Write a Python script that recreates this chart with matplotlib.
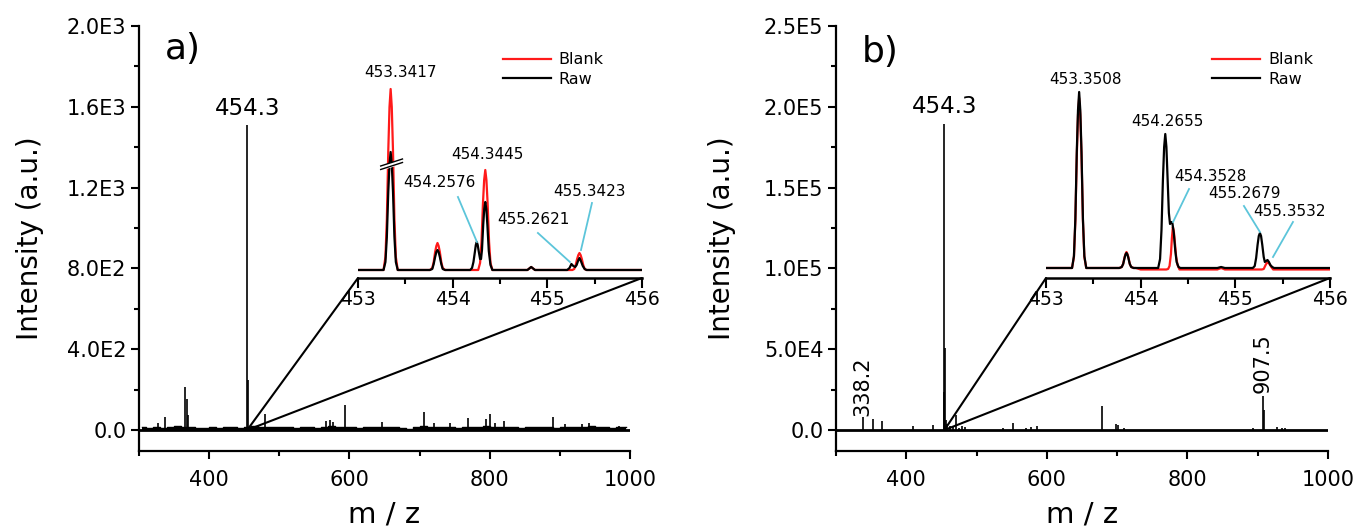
import matplotlib
matplotlib.use("Agg")
import matplotlib.pyplot as plt
import numpy as np
from matplotlib.patches import ConnectionPatch
from matplotlib.ticker import MultipleLocator, FixedLocator, FuncFormatter

# %% data read off the reference
# panel a, full spectrum (stick peaks)
a_mz = [327, 337, 365.5, 368, 370, 454.3, 455.0, 479.5, 567, 572, 576, 593, 646,
        707, 720, 743, 769, 795, 801, 807, 820, 890, 907, 932, 941, 985]
a_int = [36, 63, 211, 152, 74, 1508, 250, 79, 46, 50, 40, 124, 41,
         87, 33, 36, 61, 53, 79, 36, 45, 66, 28, 30, 36, 21]
# panel a, noisy baseline
a_noise_mz = [305, 315, 325, 335, 345, 355, 365, 375, 385, 395, 405, 415, 425, 435,
              445, 455, 465, 475, 485, 495, 505, 515, 525, 535, 545, 555, 565, 575,
              585, 595, 605, 615, 625, 635, 645, 655, 665, 675, 685, 695, 705, 715,
              725, 735, 745, 755, 765, 775, 785, 795, 805, 815, 825, 835, 845, 855,
              865, 875, 885, 895, 905, 915, 925, 935, 945, 955, 965, 975, 985, 995]
a_noise_int = [14, 11, 17, 12, 15, 19, 16, 17, 12, 11, 14, 10, 13, 15,
               11, 17, 19, 15, 14, 13, 17, 14, 11, 15, 13, 8, 17, 19,
               14, 13, 15, 11, 14, 13, 17, 14, 13, 8, 3, 14, 18, 15,
               13, 14, 17, 11, 14, 15, 13, 19, 17, 14, 13, 15, 11, 14,
               13, 15, 14, 11, 17, 13, 14, 15, 18, 13, 14, 11, 15, 13]

# panel b, full spectrum (stick peaks)
b_mz = [338.2, 353, 366, 410, 438, 453.0, 454.3, 455.0, 456, 458, 462, 466,
        470.6, 475, 479, 483, 538, 552, 570, 577, 586,
        679, 699, 702, 710, 894, 907.5, 908.5, 928, 935, 939]
b_int = [7800, 6800, 5600, 2500, 3100, 23300, 189600, 50500, 6000, 4000, 2500, 2000,
         9300, 1500, 2500, 2000, 1000, 4500, 1000, 1600, 2700,
         15000, 3700, 3100, 1400, 1000, 21000, 12400, 1650, 1000, 1000]

# zoomed insets (m/z 453-456), traced profiles, relative units
ia_red_mz = [453.0, 453.27, 453.29, 453.305, 453.32, 453.333, 453.345, 453.357, 453.37,
             453.385, 453.40, 453.42,
             453.76, 453.785, 453.80, 453.815, 453.828, 453.84, 453.852, 453.865, 453.88,
             453.895, 453.92,
             454.27, 454.29, 454.305, 454.32, 454.333, 454.345, 454.357, 454.37,
             454.385, 454.40, 454.42,
             454.79, 454.83, 454.87,
             455.265, 455.285, 455.30, 455.315, 455.328, 455.34, 455.352, 455.365,
             455.38, 455.395, 455.415, 456.0]
ia_red_int = [0, 0, 13, 51, 119, 163, 181, 163, 119,
              51, 13, 0,
              0, 2, 8, 18, 24, 27, 24, 18, 8,
              2, 0,
              0, 7, 28, 66, 90, 100, 90, 66,
              28, 7, 0,
              0, 3, 0,
              0, 1, 5, 11, 15, 17, 15, 11,
              5, 1, 0, 0]
ia_raw_mz = [453.0, 453.27, 453.29, 453.305, 453.32, 453.333, 453.345, 453.357, 453.37,
             453.385, 453.40, 453.42,
             453.76, 453.785, 453.80, 453.815, 453.828, 453.84, 453.852, 453.865, 453.88,
             453.895, 453.92,
             454.185, 454.205, 454.22, 454.235, 454.245, 454.255, 454.265, 454.275,
             454.29, 454.30, 454.31, 454.323, 454.334, 454.345, 454.356, 454.367,
             454.382, 454.40, 454.42,
             454.79, 454.83, 454.87,
             455.21, 455.235, 455.255, 455.275, 455.295, 455.31, 455.325, 455.34,
             455.355, 455.375, 455.395, 455.415, 456.0]
ia_raw_int = [0, 0, 8, 33, 78, 106, 118, 106, 78,
              33, 8, 0,
              0, 1, 6, 13, 18, 20, 18, 13, 6,
              1, 0,
              0, 2, 8, 18, 25, 28, 25, 19,
              11, 11, 20, 45, 61, 68, 61, 45,
              19, 5, 0,
              0, 3, 0,
              0, 2, 6, 4, 3, 5, 9, 12,
              9, 4, 1, 0, 0]

ib_red_mz = [453.0, 453.275, 453.295, 453.31, 453.325, 453.338, 453.35, 453.362, 453.375,
             453.39, 453.405, 453.425,
             453.775, 453.80, 453.815, 453.83, 453.84, 453.85, 453.86, 453.87,
             453.885, 453.90, 453.925, 453.95, 454.0,
             454.27, 454.29, 454.305, 454.32, 454.33, 454.34, 454.35, 454.36,
             454.375, 454.39, 454.41,
             454.81, 454.85, 454.89,
             455.28, 455.30, 455.32, 455.335, 455.345, 455.36, 455.38, 455.40, 456.0]
ib_red_int = [0, 0, 11, 47, 112, 153, 170, 153, 112,
              47, 11, 0,
              0, 1, 4, 11, 14, 16, 14, 11,
              4, 1, 0, 0, -1.5,
              -1.5, -1, 2, 14, 30, 41, 37, 27,
              11, 3, -1.5,
              -1.5, 0, -1.5,
              -1.5, -1, 3, 5.5, 6, 4, 1, -1.5, -1.5]
ib_raw_mz = [453.0, 453.275, 453.295, 453.31, 453.325, 453.338, 453.35, 453.362, 453.375,
             453.39, 453.405, 453.425,
             453.775, 453.80, 453.815, 453.83, 453.84, 453.85, 453.86, 453.87,
             453.885, 453.90, 453.925,
             454.185, 454.205, 454.22, 454.235, 454.248, 454.26, 454.272, 454.285,
             454.298, 454.31, 454.325, 454.335, 454.35, 454.365, 454.38, 454.40, 454.42,
             454.81, 454.85, 454.89,
             455.185, 455.205, 455.22, 455.235, 455.248, 455.26, 455.272, 455.285,
             455.30, 455.312, 455.325, 455.34, 455.355, 455.37, 455.39, 455.41, 456.0]
ib_raw_int = [0, 0, 12, 49, 116, 158, 176, 158, 116,
              49, 12, 0,
              0, 1, 4, 10, 13.5, 15, 13.5, 10,
              4, 1, 0,
              0, 9, 38, 88, 121, 134, 121, 88,
              55, 44, 46, 45, 35, 18, 6, 1, 0,
              0, 1, 0,
              0, 2, 10, 23, 32, 35, 32, 23,
              11, 6, 7, 8, 6, 3, 1, 0, 0]

# peak labels in the insets: text, text position, leader end (None = no leader)
ia_labels = [("453.3417", (453.444, 197), None),
             ("454.3445", (454.363, 115), None),
             ("454.2576", (453.856, 87), ((454.056, 73), (454.257, 28))),
             ("455.2621", (454.849, 50), ((454.901, 37), (455.239, 8))),
             ("455.3423", (455.451, 78), ((455.472, 67), (455.356, 20)))]
ib_labels = [("453.3508", (453.412, 188), None),
             ("454.2655", (454.278, 146), None),
             ("454.3528", (454.732, 91), ((454.511, 79), (454.342, 46))),
             ("455.2679", (455.102, 74), ((455.091, 62), (455.260, 36))),
             ("455.3532", (455.577, 56), ((455.609, 46), (455.398, 11)))]

# axis-break mark on the clipped 453.34 peak of inset a
break_x = [453.24, 453.47]
break_y_lo = [100.5, 107.5]
break_y_hi = [104.0, 111.0]

RED = "#ff1a1a"
CYAN = "#5cc5da"


def sci_fmt(v, pos):
    if abs(v) < 1e-9:
        return "0.0"
    e = int(np.floor(np.log10(abs(v))))
    return f"{v / 10 ** e:.1f}E{e}"


def style_main(ax, ymax, ystep):
    for s in ("top", "right"):
        ax.spines[s].set_visible(False)
    for s in ("left", "bottom"):
        ax.spines[s].set_linewidth(1.6)
    ax.set_xlim(300, 1000)
    ax.set_ylim(-ymax * 0.052, ymax)
    ax.xaxis.set_major_locator(FixedLocator([400, 600, 800, 1000]))
    ax.xaxis.set_minor_locator(FixedLocator([300, 500, 700, 900]))
    ax.yaxis.set_major_locator(MultipleLocator(ystep))
    ax.yaxis.set_minor_locator(MultipleLocator(ystep / 2))
    ax.yaxis.set_major_formatter(FuncFormatter(sci_fmt))
    ax.tick_params(which="major", direction="out", length=6, width=1.5, labelsize=15)
    ax.tick_params(which="minor", direction="out", length=3.5, width=1.5)
    ax.tick_params(axis="x", which="major", pad=8)
    ax.tick_params(axis="y", which="major", pad=3)
    ax.set_xlabel("m / z", fontsize=21)
    ax.set_ylabel("Intensity (a.u.)", fontsize=20)
    ax.xaxis.set_label_coords(0.5, -0.117)
    ax.patch.set_alpha(0)


def style_inset(ax, ybottom):
    for s in ("top", "right", "left"):
        ax.spines[s].set_visible(False)
    ax.spines["bottom"].set_linewidth(1.8)
    ax.set_xlim(453, 456)
    ax.set_ylim(ybottom, ybottom + 228)
    ax.set_yticks([])
    ax.xaxis.set_major_locator(MultipleLocator(1))
    ax.xaxis.set_minor_locator(MultipleLocator(0.5))
    ax.tick_params(which="major", direction="out", length=7, width=1.5, labelsize=13.5, pad=2)
    ax.tick_params(which="minor", direction="out", length=4, width=1.5)
    ax.patch.set_alpha(0)


def label_peaks(ax, labels):
    for text, xy_text, leader in labels:
        ax.text(xy_text[0], xy_text[1], text, ha="center", va="center", fontsize=11)
        if leader is not None:
            (x0, y0), (x1, y1) = leader
            ax.plot([x0, x1], [y0, y1], color=CYAN, lw=1.3)


def draw_panel(ax, ins, mz, inten, label_y, red_mz, red_int, raw_mz, raw_int, labels,
               legend_x):
    ax.axhline(0, color="black", lw=2.0, zorder=2)
    ax.vlines(mz, 0, inten, color="black", lw=1.2, zorder=3)
    ax.text(454.3, label_y, "454.3", ha="center", va="bottom", fontsize=16.5)
    ins.plot(red_mz, red_int, color=RED, lw=1.6, label="Blank")
    ins.plot(raw_mz, raw_int, color="black", lw=1.6, label="Raw")
    label_peaks(ins, labels)
    ins.legend(loc="upper left", frameon=False, fontsize=11.5, handlelength=3.0,
               handletextpad=0.5, labelspacing=0.3, borderpad=0, borderaxespad=0,
               bbox_to_anchor=(legend_x, 0.99))
    for xb in (0, 1):
        con = ConnectionPatch(xyA=(454.3, 0), coordsA=ax.transData,
                              xyB=(xb, 0), coordsB=ins.transAxes,
                              color="black", lw=1.5)
        fig.add_artist(con)


# %% figure
fig = plt.figure(figsize=(13.56, 5.29), dpi=100)
ax_a = fig.add_axes([0.1025, 0.1474, 0.3621, 0.8034])
ax_b = fig.add_axes([0.6165, 0.1474, 0.3628, 0.8034])
ins_a = fig.add_axes([0.2640, 0.4745, 0.2094, 0.431])
ins_b = fig.add_axes([0.7714, 0.4745, 0.2094, 0.431])

style_main(ax_a, 2000, 400)
style_main(ax_b, 250000, 50000)
ax_a.yaxis.set_label_coords(-0.193, 0.5)
ax_b.yaxis.set_label_coords(-0.203, 0.5)
style_inset(ins_a, -8)
style_inset(ins_b, -10)

# hairy baseline of panel a
ax_a.fill_between(a_noise_mz, 0, a_noise_int, step="mid", color="black", lw=0, zorder=3)
ax_a.plot(a_noise_mz, a_noise_int, color="black", lw=1.0, drawstyle="steps-mid", zorder=3)
draw_panel(ax_a, ins_a, a_mz, a_int, 1535, ia_red_mz, ia_red_int, ia_raw_mz, ia_raw_int,
           ia_labels, 0.51)
draw_panel(ax_b, ins_b, b_mz, b_int, 193000, ib_red_mz, ib_red_int, ib_raw_mz, ib_raw_int,
           ib_labels, 0.585)

# rotated peak labels of panel b
ax_b.text(338.2, 8600, "338.2", rotation=90, ha="center", va="bottom", fontsize=15)
ax_b.text(907.5, 23000, "907.5", rotation=90, ha="center", va="bottom", fontsize=15)

# break mark on the clipped peak
ins_a.fill_between(break_x, break_y_lo, break_y_hi, color="white", zorder=5)
ins_a.plot(break_x, break_y_lo, color="black", lw=1.0, zorder=6)
ins_a.plot(break_x, break_y_hi, color="black", lw=1.0, zorder=6)

ax_a.text(0.09, 0.945, "a)", transform=ax_a.transAxes, ha="center", va="center", fontsize=26)
ax_b.text(0.089, 0.94, "b)", transform=ax_b.transAxes, ha="center", va="center", fontsize=26)

fig.savefig("out.png", dpi=100)
